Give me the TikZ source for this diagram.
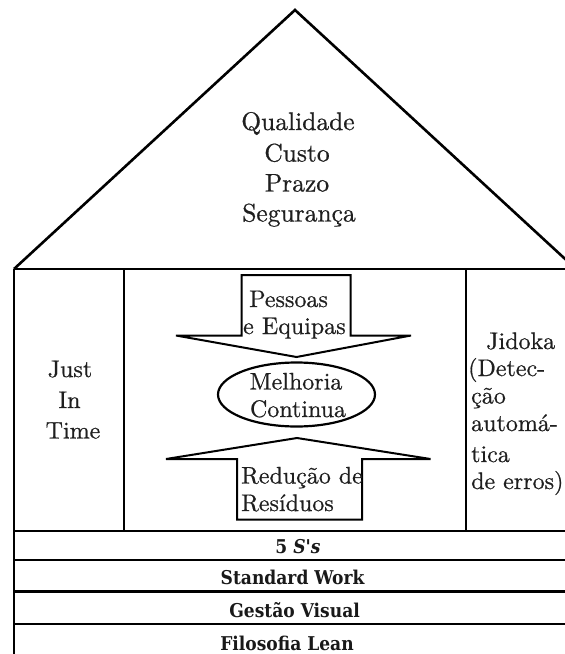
\documentclass[tikz,border=0pt]{standalone}
\usepackage{fontspec}
\setmainfont{lmroman10}[Extension=.otf, UprightFont=*-regular, BoldFont=*-bold, ItalicFont=*-italic, BoldItalicFont=*-bolditalic]
\newfontfamily\bodyfont{lmroman10-regular.otf}[FakeBold=0.6]
\newfontfamily\bandfont{DejaVu Serif}[FakeStretch=0.9]
\begin{document}
\begin{tikzpicture}[x=1pt,y=-1pt,
  wall/.style={line width=2.6pt, line join=miter},
  band/.style={line width=2.8pt},
  arrowbox/.style={line width=2pt, line join=miter, fill=white},
  rtxt/.style={font=\bodyfont\fontsize{25.5}{30}\selectfont, inner sep=0pt, anchor=base, text=black!88},
  mtxt/.style={font=\bodyfont\fontsize{24}{28}\selectfont, inner sep=0pt, anchor=base, text=black!88},
  mtxtl/.style={mtxt, anchor=base west},
  btxt/.style={font=\bandfont\fontsize{19}{22}\selectfont\bfseries, inner sep=0pt, anchor=base, text=black!90}
]
\useasboundingbox (0,0) rectangle (565,654);
\clip (0,0) rectangle (565,654);
\fill[white] (0,0) rectangle (565,654);

% roof
\draw[wall] (14,269) -- (295,10) -- (576,269);
\draw[band] (14,269) -- (576,269);
% walls and columns
\draw[wall] (14,269) -- (14,660);
\draw[wall] (576,269) -- (576,660);
\draw[wall] (124,269) -- (124,531);
\draw[wall] (466,269) -- (466,531);
% bands
\foreach \yy in {531,560,591.5,624} \draw[band] (14,\yy) -- (576,\yy);

% roof text
\node[rtxt] (q1) at (298,130) {Qualidade};
\node[rtxt] (q2) at (297,161.5) {Custo};
\node[rtxt] (q3) at (297,191.5) {Prazo};
\node[rtxt] (q4) at (299,221.5) {Segurança};

% arrows
\draw[arrowbox] (241.5,275) -- (350.5,275) -- (350.5,335.5) -- (411,335.5) -- (296.5,357) -- (176,335.5) -- (241.5,335.5) -- cycle;
\draw[arrowbox] (237,519.5) -- (237,459) -- (166,459) -- (297,438) -- (430.5,459) -- (362,459) -- (362,519.5) -- cycle;
\draw[line width=2.2pt] (296.5,394.5) ellipse [x radius=78.5, y radius=32];

\node[mtxtl] (p1) at (249,307) {Pessoas};
\node[mtxtl] (p2) at (243,334) {e Equipas};
\node[mtxt] (m1) at (296,389.5) {Melhoria};
\node[mtxt] (m2) at (298,417) {Continua};
\node[mtxtl] (r1) at (241,483.5) {Redução de};
\node[mtxtl] (r2) at (241,511) {Resíduos};

% left column
\node[mtxt] (j1) at (70,377) {Just};
\node[mtxt] (j2) at (69.5,408) {In};
\node[mtxt] (j3) at (73,438.5) {Time};

% right column
\node[mtxtl] (k1) at (486,349) {Jidoka};
\node[mtxtl] (k2) at (468,376) {(Detec-};
\node[mtxtl] (k3) at (471,403.5) {ção};
\node[mtxtl] (k4) at (471,431) {automá-};
\node[mtxtl] (k5) at (471,462) {tica};
\node[mtxtl] (k6) at (471,489) {de erros)};

% bands text
\node[btxt] (b1) at (298,553.5) {5 \textit{S's}};
\node[btxt] (b2) at (292.6,584.5) {Standard Work};
\node[btxt] (b3) at (294.6,617.5) {Gestão Visual};
\node[btxt] (b4) at (287,650.5) {Filosofia Lean};
\end{tikzpicture}
\end{document}
